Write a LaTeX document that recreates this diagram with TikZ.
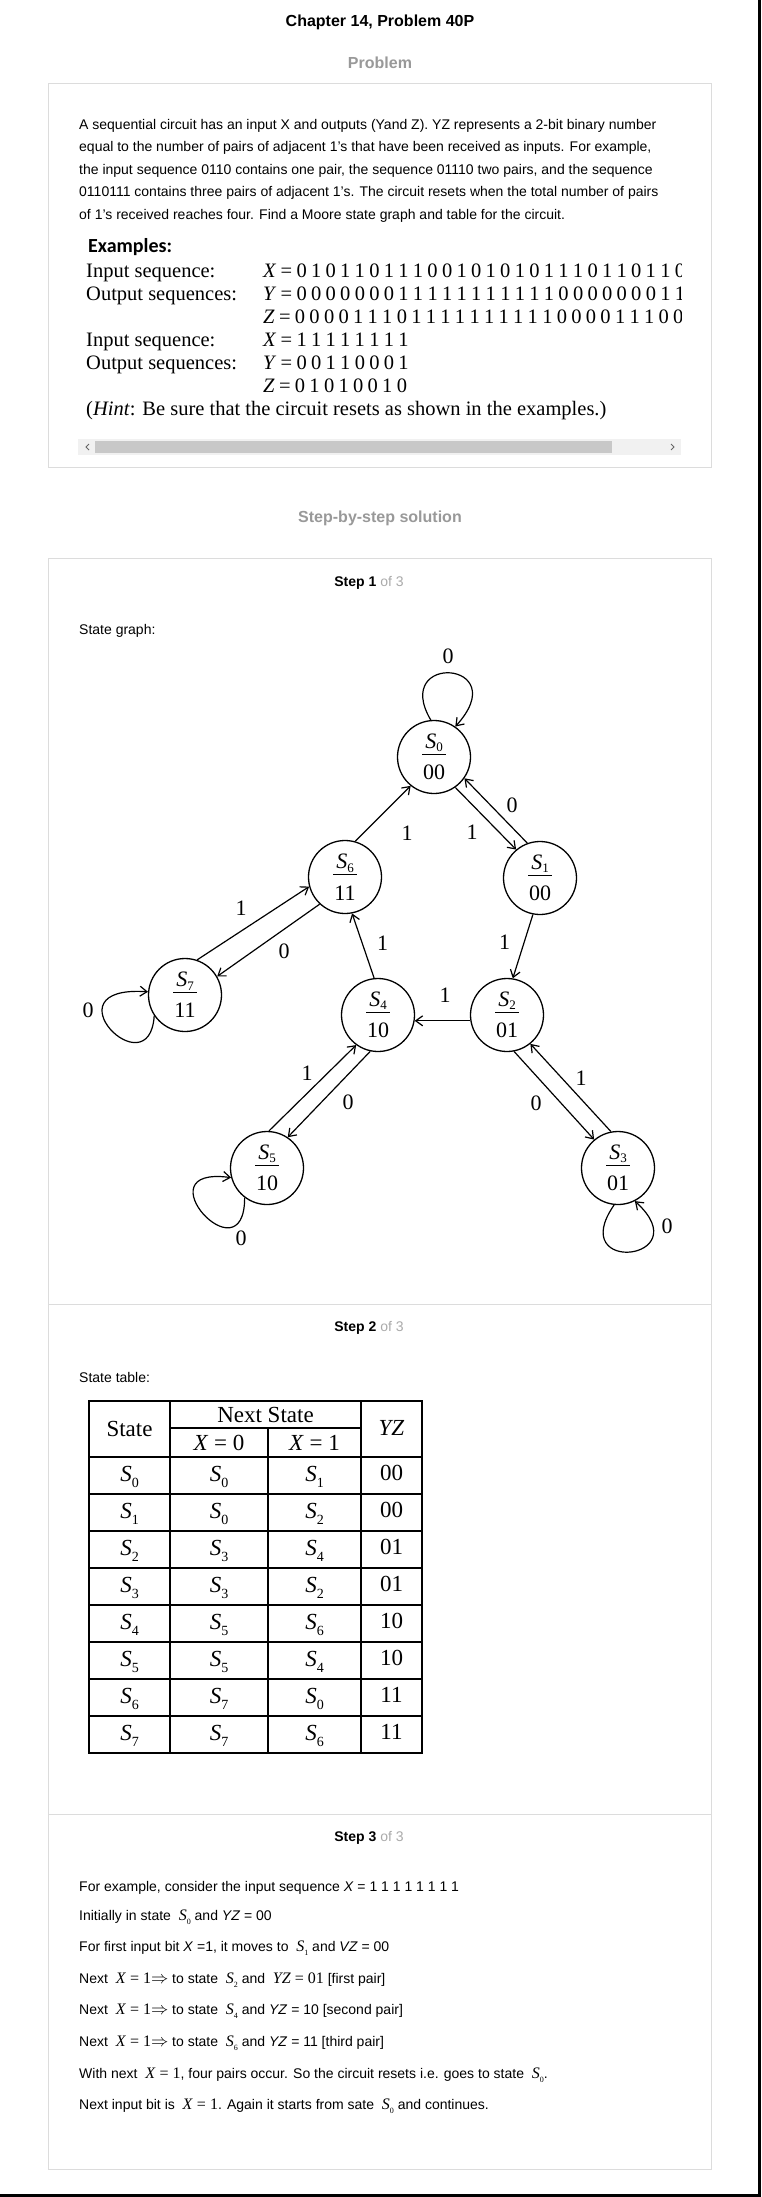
\documentclass[tikz,border=0pt]{standalone}
\usepackage{fontspec}
\setmainfont{Liberation Sans}
\newfontfamily\tms{Liberation Serif}
\newfontfamily\cbr{Carlito}
\usetikzlibrary{arrows.meta}

\definecolor{marco}{HTML}{DCDCDC}
\definecolor{gris}{HTML}{999999}
\definecolor{grisclaro}{HTML}{AAAAAA}
\definecolor{pista}{HTML}{F1F1F1}
\definecolor{barra}{HTML}{C8C8C8}

\newcommand{\sbs}[3]{\raisebox{-#2}{\fontsize{#1}{#1}\selectfont #3}}
\newcommand{\est}[2]{\vbox{\hbox to 24pt{\hss\textit{S}\sbs{13}{3.5pt}{#1}\hss}\kern2pt\hrule height 1.3pt\kern10pt\hbox to 24pt{\hss#2\hss}}}
\newcommand{\ssub}[1]{{\tms\fontsize{16}{18}\selectfont\textit{S}\sbs{8}{4pt}{#1}}}
\newcommand{\mx}[1]{{\tms\fontsize{16}{18}\selectfont #1}}

\begin{document}
\begin{tikzpicture}[x=1pt, y=1pt, >={Straight Barb[length=7pt,width=10pt]}]

	\tikzstyle{estado}=[circle, draw, line width=1.3pt, minimum size=73pt, inner sep=0pt, font=\tms\fontsize{22}{24}\selectfont]
	\tikzstyle{flecha}=[->, line width=1.2pt]
	\tikzstyle{etiq}=[inner sep=0pt, font=\tms\fontsize{22}{24}\selectfont]
	\tikzstyle{texto}=[anchor=base west, inner sep=0pt, font=\fontsize{14}{16}\selectfont]
	\tikzstyle{serif}=[anchor=base west, inner sep=0pt, font=\tms\fontsize{20.5}{23}\selectfont]
	\tikzstyle{celda}=[inner sep=0pt, font=\tms\fontsize{23}{25}\selectfont]
	\tikzstyle{caja}=[draw=marco, line width=1pt]

	\useasboundingbox (0,0) rectangle (761,-2197);
	\fill[white] (0,0) rectangle (761,-2197);
	\draw[line width=2.5pt] (759.5,0) -- (759.5,-2195.5) -- (0,-2195.5);

	%%%%%%% ENUNCIADO %%%%%%%%
	\node[anchor=base, inner sep=0pt, font=\bfseries\fontsize{16}{18}\selectfont] (titulo) at (380,-27) {Chapter 14, Problem 40P};
	\node[anchor=base, inner sep=0pt, text=gris, font=\bfseries\fontsize{16}{18}\selectfont] (problema) at (380,-69) {Problem};
	\draw[caja] (48,-84) rectangle (711,-467);

	\node[texto] (p_1) at (79,-129) {A sequential circuit has an input X and outputs (Yand Z). YZ represents a 2-bit binary number};
	\node[texto] (p_2) at (79,-151.5) {equal to the number of pairs of adjacent 1’s that have been received as inputs. For example,};
	\node[texto] (p_3) at (79,-174) {the input sequence 0110 contains one pair, the sequence 01110 two pairs, and the sequence};
	\node[texto] (p_4) at (79,-196.5) {0110111 contains three pairs of adjacent 1’s. The circuit resets when the total number of pairs};
	\node[texto] (p_5) at (79,-219) {of 1’s received reaches four. Find a Moore state graph and table for the circuit.};

	\node[anchor=base west, inner sep=0pt, font=\cbr\bfseries\fontsize{20}{22}\selectfont] (ejemplos) at (88,-252) {Examples:};
	\begin{scope}
		\clip (78,-230) rectangle (681,-430);
		\node[serif] (in_1) at (86,-277) {Input sequence:};
		\node[serif] (out_1) at (86,-300) {Output sequences:};
		\node[serif] (in_2) at (86,-346) {Input sequence:};
		\node[serif] (out_2) at (86,-369) {Output sequences:};
		\node[serif] (x_1) at (263,-277) {\spaceskip=4.3pt\relax\textit{X} = 0 1 0 1 1 0 1 1 1 0 0 1 0 1 0 1 0 1 1 1 0 1 1 0 1 1 0};
		\node[serif] (y_1) at (263,-300) {\spaceskip=4.3pt\relax\textit{Y} = 0 0 0 0 0 0 0 1 1 1 1 1 1 1 1 1 1 1 0 0 0 0 0 0 0 1 1};
		\node[serif] (z_1) at (263,-323) {\spaceskip=4.3pt\relax\textit{Z} = 0 0 0 0 1 1 1 0 1 1 1 1 1 1 1 1 1 1 0 0 0 0 1 1 1 0 0};
		\node[serif] (x_2) at (263,-346) {\spaceskip=4.3pt\relax\textit{X} = 1 1 1 1 1 1 1 1};
		\node[serif] (y_2) at (263,-369) {\spaceskip=4.3pt\relax\textit{Y} = 0 0 1 1 0 0 0 1};
		\node[serif] (z_2) at (263,-392) {\spaceskip=4.3pt\relax\textit{Z} = 0 1 0 1 0 0 1 0};
		\node[serif] (pista) at (86,-415) {(\textit{Hint}: Be sure that the circuit resets as shown in the examples.)};
	\end{scope}

	\fill[pista] (78,-439) rectangle (681,-455); % BARRA
	\fill[barra] (95,-441) rectangle (612,-453);
	\draw[line width=0.8pt, black!60] (89,-444) -- (86,-447) -- (89,-450);
	\draw[line width=0.8pt, black!60] (671,-444) -- (674,-447) -- (671,-450);

	%%%%%%% SOLUCION %%%%%%%%
	\node[anchor=base, inner sep=0pt, text=gris, font=\bfseries\fontsize{16}{18}\selectfont] (solucion) at (380,-522) {Step-by-step solution};
	\draw[caja] (48,-558) rectangle (711,-2169);
	\draw[caja] (48,-1304) -- (711,-1304);
	\draw[caja] (48,-1814) -- (711,-1814);

	\node[anchor=base, inner sep=0pt, font=\fontsize{14}{16}\selectfont] (paso_1) at (369,-586) {\textbf{Step 1} \textcolor{grisclaro}{of 3}};
	\node[anchor=base, inner sep=0pt, font=\fontsize{14}{16}\selectfont] (paso_2) at (369,-1331) {\textbf{Step 2} \textcolor{grisclaro}{of 3}};
	\node[anchor=base, inner sep=0pt, font=\fontsize{14}{16}\selectfont] (paso_3) at (369,-1841) {\textbf{Step 3} \textcolor{grisclaro}{of 3}};

	\node[texto] (grafo) at (79,-634) {State graph:};

	%%%%%%% GRAFO DE ESTADOS %%%%%%%%
	\coordinate (c_0) at (434,-757);
	\coordinate (c_1) at (540,-878);
	\coordinate (c_2) at (507,-1015);
	\coordinate (c_3) at (618,-1168);
	\coordinate (c_4) at (378,-1015);
	\coordinate (c_5) at (267,-1168);
	\coordinate (c_6) at (345,-877);
	\coordinate (c_7) at (185,-995);

	\node[estado] (s_0) at (c_0) {\est{0}{00}};
	\node[estado] (s_1) at (c_1) {\est{1}{00}};
	\node[estado] (s_2) at (c_2) {\est{2}{01}};
	\node[estado] (s_3) at (c_3) {\est{3}{01}};
	\node[estado] (s_4) at (c_4) {\est{4}{10}};
	\node[estado] (s_5) at (c_5) {\est{5}{10}};
	\node[estado] (s_6) at (c_6) {\est{6}{11}};
	\node[estado] (s_7) at (c_7) {\est{7}{11}};

	\draw[flecha] (s_6.74) -- (s_0.231);
	\draw[flecha] (s_0.-55) -- (s_1.130);
	\draw[flecha] (s_1.110) -- (s_0.-35);
	\draw[flecha] (s_1.259) -- (s_2.81);
	\draw[flecha] (s_4.96) -- (s_6.281);
	\draw[flecha] (s_7.71) -- (s_6.195);
	\draw[flecha] (s_6.227) -- (s_7.30);
	\draw[flecha] (s_2.189) -- (s_4.351);
	\draw[flecha] (s_5.87) -- (s_4.234);
	\draw[flecha] (s_4.258) -- (s_5.56);
	\draw[flecha] (s_2.281) -- (s_3.130);
	\draw[flecha] (s_3.101) -- (s_2.309);

	\draw[flecha] (s_0.95) .. controls +(-40,68) and +(60,66) .. (s_0.55); % LAZOS
	\draw[flecha] (s_7.214) .. controls +(-4.7,-74.6) and +(-103.6,6.8) .. (s_7.175);
	\draw[flecha] (s_5.233) .. controls +(0,-82.8) and +(-91.7,12.4) .. (s_5.195);
	\draw[flecha] (s_3.264) .. controls +(-49.2,-70.7) and +(65.4,-59.5) .. (s_3.297);

	\node[etiq] (e_00) at (448,-656) {0};
	\node[etiq] (e_01) at (472,-832) {1};
	\node[etiq] (e_10) at (512,-805) {0};
	\node[etiq] (e_60) at (407,-833) {1};
	\node[etiq] (e_12) at (504.5,-942) {1};
	\node[etiq] (e_46) at (382.5,-943) {1};
	\node[etiq] (e_76) at (241,-908) {1};
	\node[etiq] (e_67) at (284,-951) {0};
	\node[etiq] (e_77) at (88,-1010) {0};
	\node[etiq] (e_24) at (445,-995) {1};
	\node[etiq] (e_54) at (307,-1073) {1};
	\node[etiq] (e_45) at (348,-1102) {0};
	\node[etiq] (e_23) at (536,-1103) {0};
	\node[etiq] (e_32) at (581,-1078) {1};
	\node[etiq] (e_55) at (241,-1238) {0};
	\node[etiq] (e_33) at (667,-1226) {0};

	%%%%%%% TABLA DE ESTADOS %%%%%%%%
	\node[texto] (tabla) at (79,-1382) {State table:};

	\draw[line width=1.3pt] (89,-1401) rectangle (422,-1753);
	\draw[line width=1.3pt] (170,-1401) -- (170,-1753);
	\draw[line width=1.3pt] (361,-1401) -- (361,-1753);
	\draw[line width=1.3pt] (268,-1428) -- (268,-1753);
	\draw[line width=1.3pt] (170,-1428) -- (361,-1428);
	\foreach \k in {0,...,7}
		\draw[line width=1.3pt] (89,{-1457-37*\k}) -- (422,{-1457-37*\k});

	\node[celda] (h_est) at (129.5,-1429) {State};
	\node[celda] (h_sig) at (265.5,-1414.5) {Next State};
	\node[celda] (h_x0) at (219,-1443) {\textit{X} = 0};
	\node[celda] (h_x1) at (314.5,-1443) {\textit{X} = 1};
	\node[celda] (h_yz) at (391.5,-1428) {\textit{YZ}};

	\foreach \e/\a/\b/\z [count=\i from 0] in {0/0/1/00, 1/0/2/00, 2/3/4/01, 3/3/2/01, 4/5/6/10, 5/5/4/10, 6/7/0/11, 7/7/6/11}{
		\node[celda] (t_\i) at (129.5,{-1477-37*\i}) {\textit{S}\sbs{14}{6pt}{\e}};
		\node[celda] (a_\i) at (219,{-1477-37*\i}) {\textit{S}\sbs{14}{6pt}{\a}};
		\node[celda] (b_\i) at (314.5,{-1477-37*\i}) {\textit{S}\sbs{14}{6pt}{\b}};
		\node[celda] (z_\i) at (391.5,{-1473-37*\i}) {\z};
	}

	%%%%%%% EJEMPLO %%%%%%%%
	\node[texto] (l_1) at (79,-1891) {For example, consider the input sequence \textit{X} = 1 1 1 1 1 1 1 1};
	\node[texto] (l_2) at (79,-1920) {Initially in state\ \ \ssub{0}\ and \textit{YZ} = 00};
	\node[texto] (l_3) at (79,-1951) {For first input bit \textit{X} =1, it moves to\ \ \ssub{1}\ and \textit{VZ} = 00};
	\node[texto] (l_4) at (79,-1983) {Next\ \ \mx{\textit{X} = 1$\Rightarrow$}\ to state\ \ \ssub{2}\ and\ \ \mx{\textit{YZ} = 01} [first pair]};
	\node[texto] (l_5) at (79,-2014) {Next\ \ \mx{\textit{X} = 1$\Rightarrow$}\ to state\ \ \ssub{4}\ and \textit{YZ} = 10 [second pair]};
	\node[texto] (l_6) at (79,-2046) {Next\ \ \mx{\textit{X} = 1$\Rightarrow$}\ to state\ \ \ssub{6}\ and \textit{YZ} = 11 [third pair]};
	\node[texto] (l_7) at (79,-2078) {With next\ \ \mx{\textit{X} = 1}, four pairs occur. So the circuit resets i.e. goes to state\ \ \ssub{0}.};
	\node[texto] (l_8) at (79,-2109) {Next input bit is\ \ \mx{\textit{X} = 1}. Again it starts from sate\ \ \ssub{0}\ and continues.};

\end{tikzpicture}
\end{document}
